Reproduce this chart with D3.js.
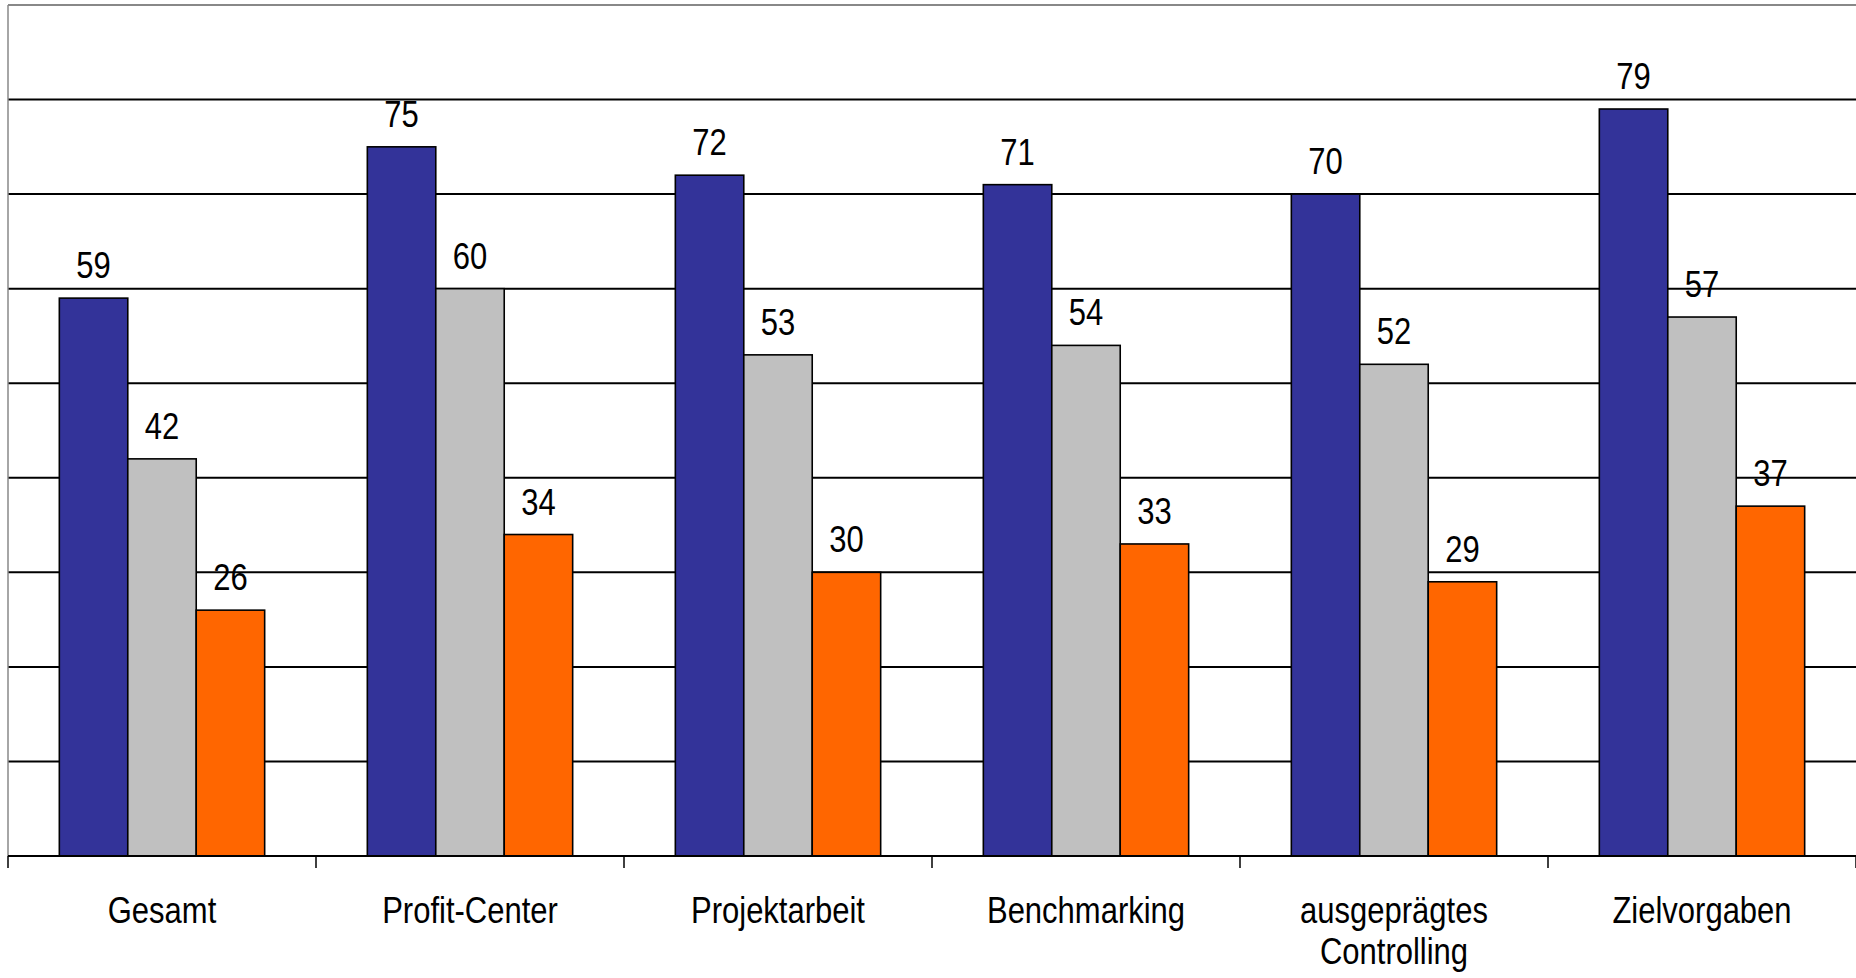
<!DOCTYPE html>
<html>
<head>
<meta charset="utf-8">
<script src="https://cdn.jsdelivr.net/npm/d3@7"></script>
<style>
  html, body { margin: 0; padding: 0; background: #fff; }
  svg { display: block; }
  text { font-family: "Liberation Sans", Arial, sans-serif; fill: #000; }
</style>
</head>
<body>
<div id="chart"></div>
<script>
const categories = [
  ["Gesamt"],
  ["Profit-Center"],
  ["Projektarbeit"],
  ["Benchmarking"],
  ["ausgeprägtes", "Controlling"],
  ["Zielvorgaben"]
];
const series = ["s1", "s2", "s3"];
const values1 = [59, 75, 72, 71, 70, 79];
const values2 = [42, 60, 53, 54, 52, 57];
const values3 = [26, 34, 30, 33, 29, 37];
const gridTicks = [10, 20, 30, 40, 50, 60, 70, 80];

const colors = ["#333399", "#c0c0c0", "#ff6600"];
const width = 1856, height = 978;
const plotLeft = 8, plotRight = 1856, plotTop = 5, plotBottom = 856;
const stretch = 1.18;

const rows = categories.map((c, i) => ({
  key: c.join(" "),
  lines: c,
  vals: [values1[i], values2[i], values3[i]]
}));

const svg = d3.select("#chart").append("svg")
  .attr("width", width)
  .attr("height", height);

const x0 = d3.scaleBand()
  .domain(rows.map(d => d.key))
  .range([plotLeft, plotRight])
  .paddingInner(1 / 3)
  .paddingOuter(1 / 6);

const x1 = d3.scaleBand()
  .domain(series)
  .range([0, x0.bandwidth()]);

const y = d3.scaleLinear().domain([0, 90]).range([plotBottom, plotTop]);

// gridlines
svg.append("g")
  .selectAll("line")
  .data(gridTicks)
  .join("line")
  .attr("x1", plotLeft).attr("x2", width)
  .attr("y1", d => y(d)).attr("y2", d => y(d))
  .attr("stroke", "#000")
  .attr("stroke-width", 2);

// plot frame (gray)
svg.append("line")
  .attr("x1", plotLeft).attr("x2", width)
  .attr("y1", y(90)).attr("y2", y(90))
  .attr("stroke", "#888").attr("stroke-width", 2);
svg.append("line")
  .attr("x1", plotLeft).attr("x2", plotLeft)
  .attr("y1", y(90)).attr("y2", plotBottom)
  .attr("stroke", "#888").attr("stroke-width", 1.5);

// bars
const groups = svg.append("g")
  .selectAll("g")
  .data(rows)
  .join("g")
  .attr("transform", d => `translate(${x0(d.key)},0)`);

groups.selectAll("rect")
  .data(d => d.vals.map((v, j) => ({ s: series[j], v, j })))
  .join("rect")
  .attr("x", d => x1(d.s))
  .attr("y", d => y(d.v))
  .attr("width", x1.bandwidth())
  .attr("height", d => y(0) - y(d.v))
  .attr("fill", d => colors[d.j])
  .attr("stroke", "#000")
  .attr("stroke-width", 1.6);

groups.selectAll("text.val")
  .data(d => d.vals.map((v, j) => ({ s: series[j], v, j })))
  .join("text")
  .attr("class", "val")
  .attr("text-anchor", "middle")
  .attr("font-size", 31)
  .attr("transform", d => `translate(${x1(d.s) + x1.bandwidth() / 2},${y(d.v) - 20}) scale(1,${stretch})`)
  .text(d => d.v);

// x axis with ticks at category boundaries
const step = x0.step();
const boundaries = d3.range(rows.length + 1).map(i => plotLeft + i * step);
svg.append("line")
  .attr("x1", plotLeft).attr("x2", width)
  .attr("y1", plotBottom).attr("y2", plotBottom)
  .attr("stroke", "#000").attr("stroke-width", 2);
svg.append("g")
  .selectAll("line")
  .data(boundaries)
  .join("line")
  .attr("x1", d => d).attr("x2", d => d)
  .attr("y1", plotBottom).attr("y2", plotBottom + 12)
  .attr("stroke", "#000").attr("stroke-width", 1.5);

// category labels
const labels = svg.append("g")
  .selectAll("g")
  .data(rows)
  .join("g")
  .attr("transform", d => `translate(${x0(d.key) + x0.bandwidth() / 2},0)`);

labels.selectAll("text")
  .data(d => d.lines)
  .join("text")
  .attr("text-anchor", "middle")
  .attr("font-size", 31)
  .attr("transform", (d, i) => `translate(0,${923 + i * 41}) scale(1,${stretch})`)
  .text(d => d);
</script>
</body>
</html>
